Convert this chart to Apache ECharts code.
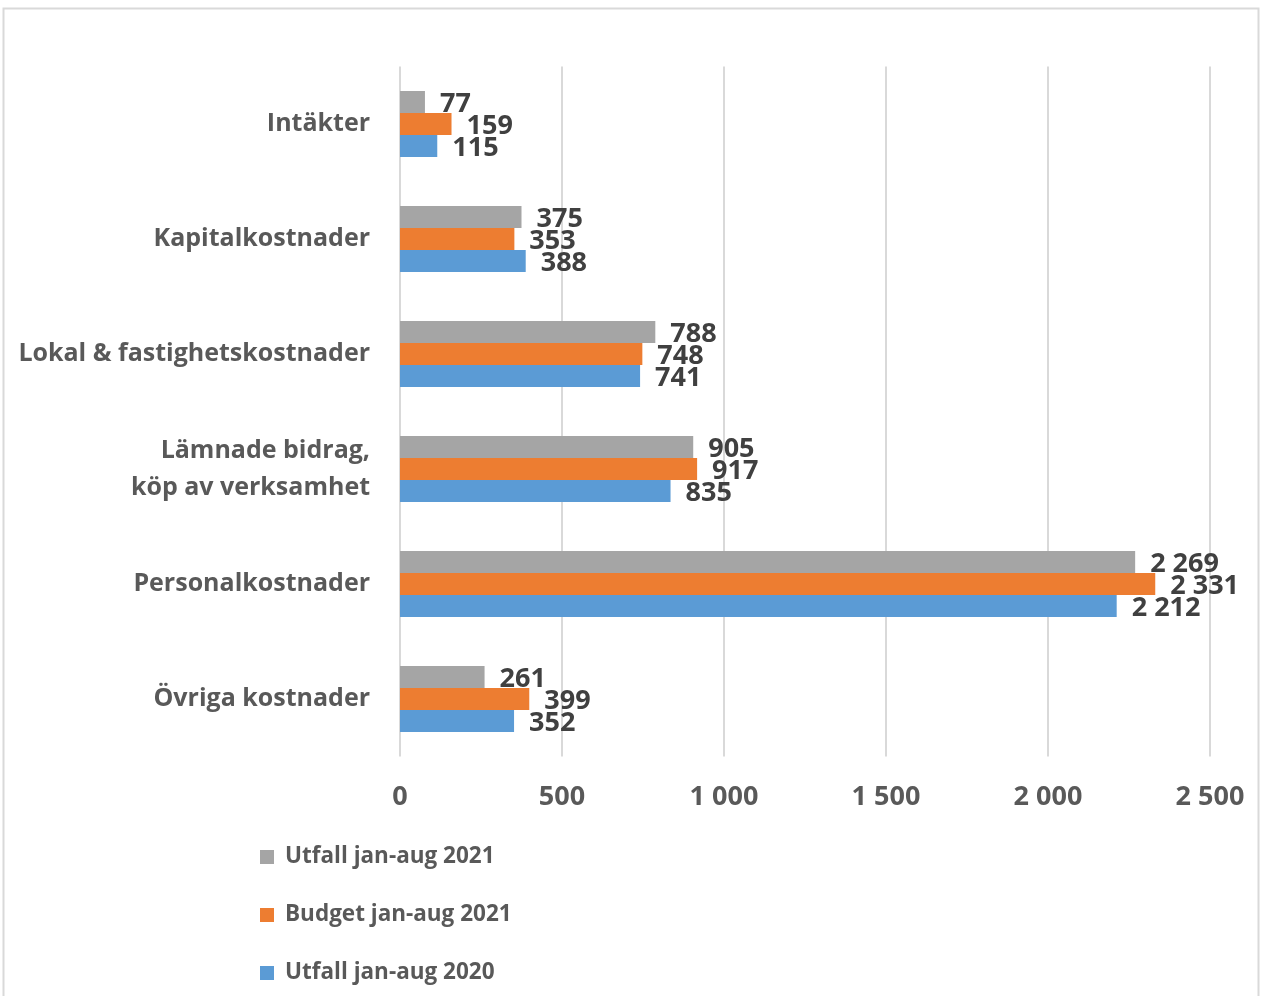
<!DOCTYPE html>
<html>
<head>
<meta charset="utf-8">
<script src="https://cdn.jsdelivr.net/npm/echarts@6/dist/echarts.min.js"></script>
<style>
  html, body { margin: 0; padding: 0; background: #fff; }
  #chart { width: 1261px; height: 996px; }
</style>
</head>
<body>
<div id="chart"></div>
<script>
const categories = [
  'Intäkter',
  'Kapitalkostnader',
  'Lokal & fastighetskostnader',
  'Lämnade bidrag,\nköp av verksamhet',
  'Personalkostnader',
  'Övriga kostnader'
];
const utfall2021 = [77, 375, 788, 905, 2269, 261];
const budget2021 = [159, 353, 748, 917, 2331, 399];
const utfall2020 = [115, 388, 741, 835, 2212, 352];

const FONT = '"Open Sans", sans-serif';
const fmt = v => String(v).replace(/\B(?=(\d{3})+(?!\d))/g, ' ');

const chart = echarts.init(document.getElementById('chart'));

function barSeries(name, data, color) {
  return {
    name,
    type: 'bar',
    data,
    barGap: '0%',
    barCategoryGap: '42.6%',
    itemStyle: { color },
    label: {
      show: true,
      position: 'right',
      distance: 15,
      offset: [0, 2],
      color: '#404040',
      fontFamily: FONT,
      fontWeight: 'bold',
      fontSize: 27,
      formatter: p => fmt(p.value)
    }
  };
}

chart.setOption({
  animation: false,
  textStyle: { fontFamily: FONT },
  graphic: [{
    type: 'rect',
    shape: { x: 3.5, y: 8.5, width: 1255, height: 1000 },
    style: { fill: 'none', stroke: '#d9d9d9', lineWidth: 2 },
    silent: true
  }],
  grid: { left: 400, right: 51, top: 66.5, bottom: 239.5 },
  legend: {
    orient: 'vertical',
    left: 255,
    top: 838,
    itemWidth: 14,
    itemHeight: 14,
    itemGap: 30,
    icon: 'rect',
    textStyle: {
      color: '#595959', fontSize: 22.5, fontWeight: 'bold', fontFamily: FONT,
      lineHeight: 28, padding: [0, 0, 0, 6]
    },
    data: ['Utfall jan-aug 2021', 'Budget jan-aug 2021', 'Utfall jan-aug 2020']
  },
  xAxis: {
    type: 'value',
    min: 0,
    max: 2500,
    interval: 500,
    axisLine: { show: false },
    axisTick: { show: false },
    splitLine: { lineStyle: { color: '#d9d9d9', width: 2 } },
    axisLabel: {
      color: '#595959',
      fontSize: 27,
      fontWeight: 'bold',
      fontFamily: FONT,
      margin: 27,
      formatter: v => fmt(v)
    }
  },
  yAxis: {
    type: 'category',
    inverse: true,
    data: categories,
    axisLine: { show: false },
    axisTick: { show: false },
    axisLabel: {
      color: '#595959',
      fontSize: 25,
      fontWeight: 'bold',
      fontFamily: FONT,
      margin: 30,
      lineHeight: 37,
      align: 'right',
      padding: [5, 0, 0, 0]
    }
  },
  series: [
    barSeries('Utfall jan-aug 2021', utfall2021, '#a5a5a5'),
    barSeries('Budget jan-aug 2021', budget2021, '#ed7d31'),
    barSeries('Utfall jan-aug 2020', utfall2020, '#5b9bd5')
  ]
});
</script>
</body>
</html>
